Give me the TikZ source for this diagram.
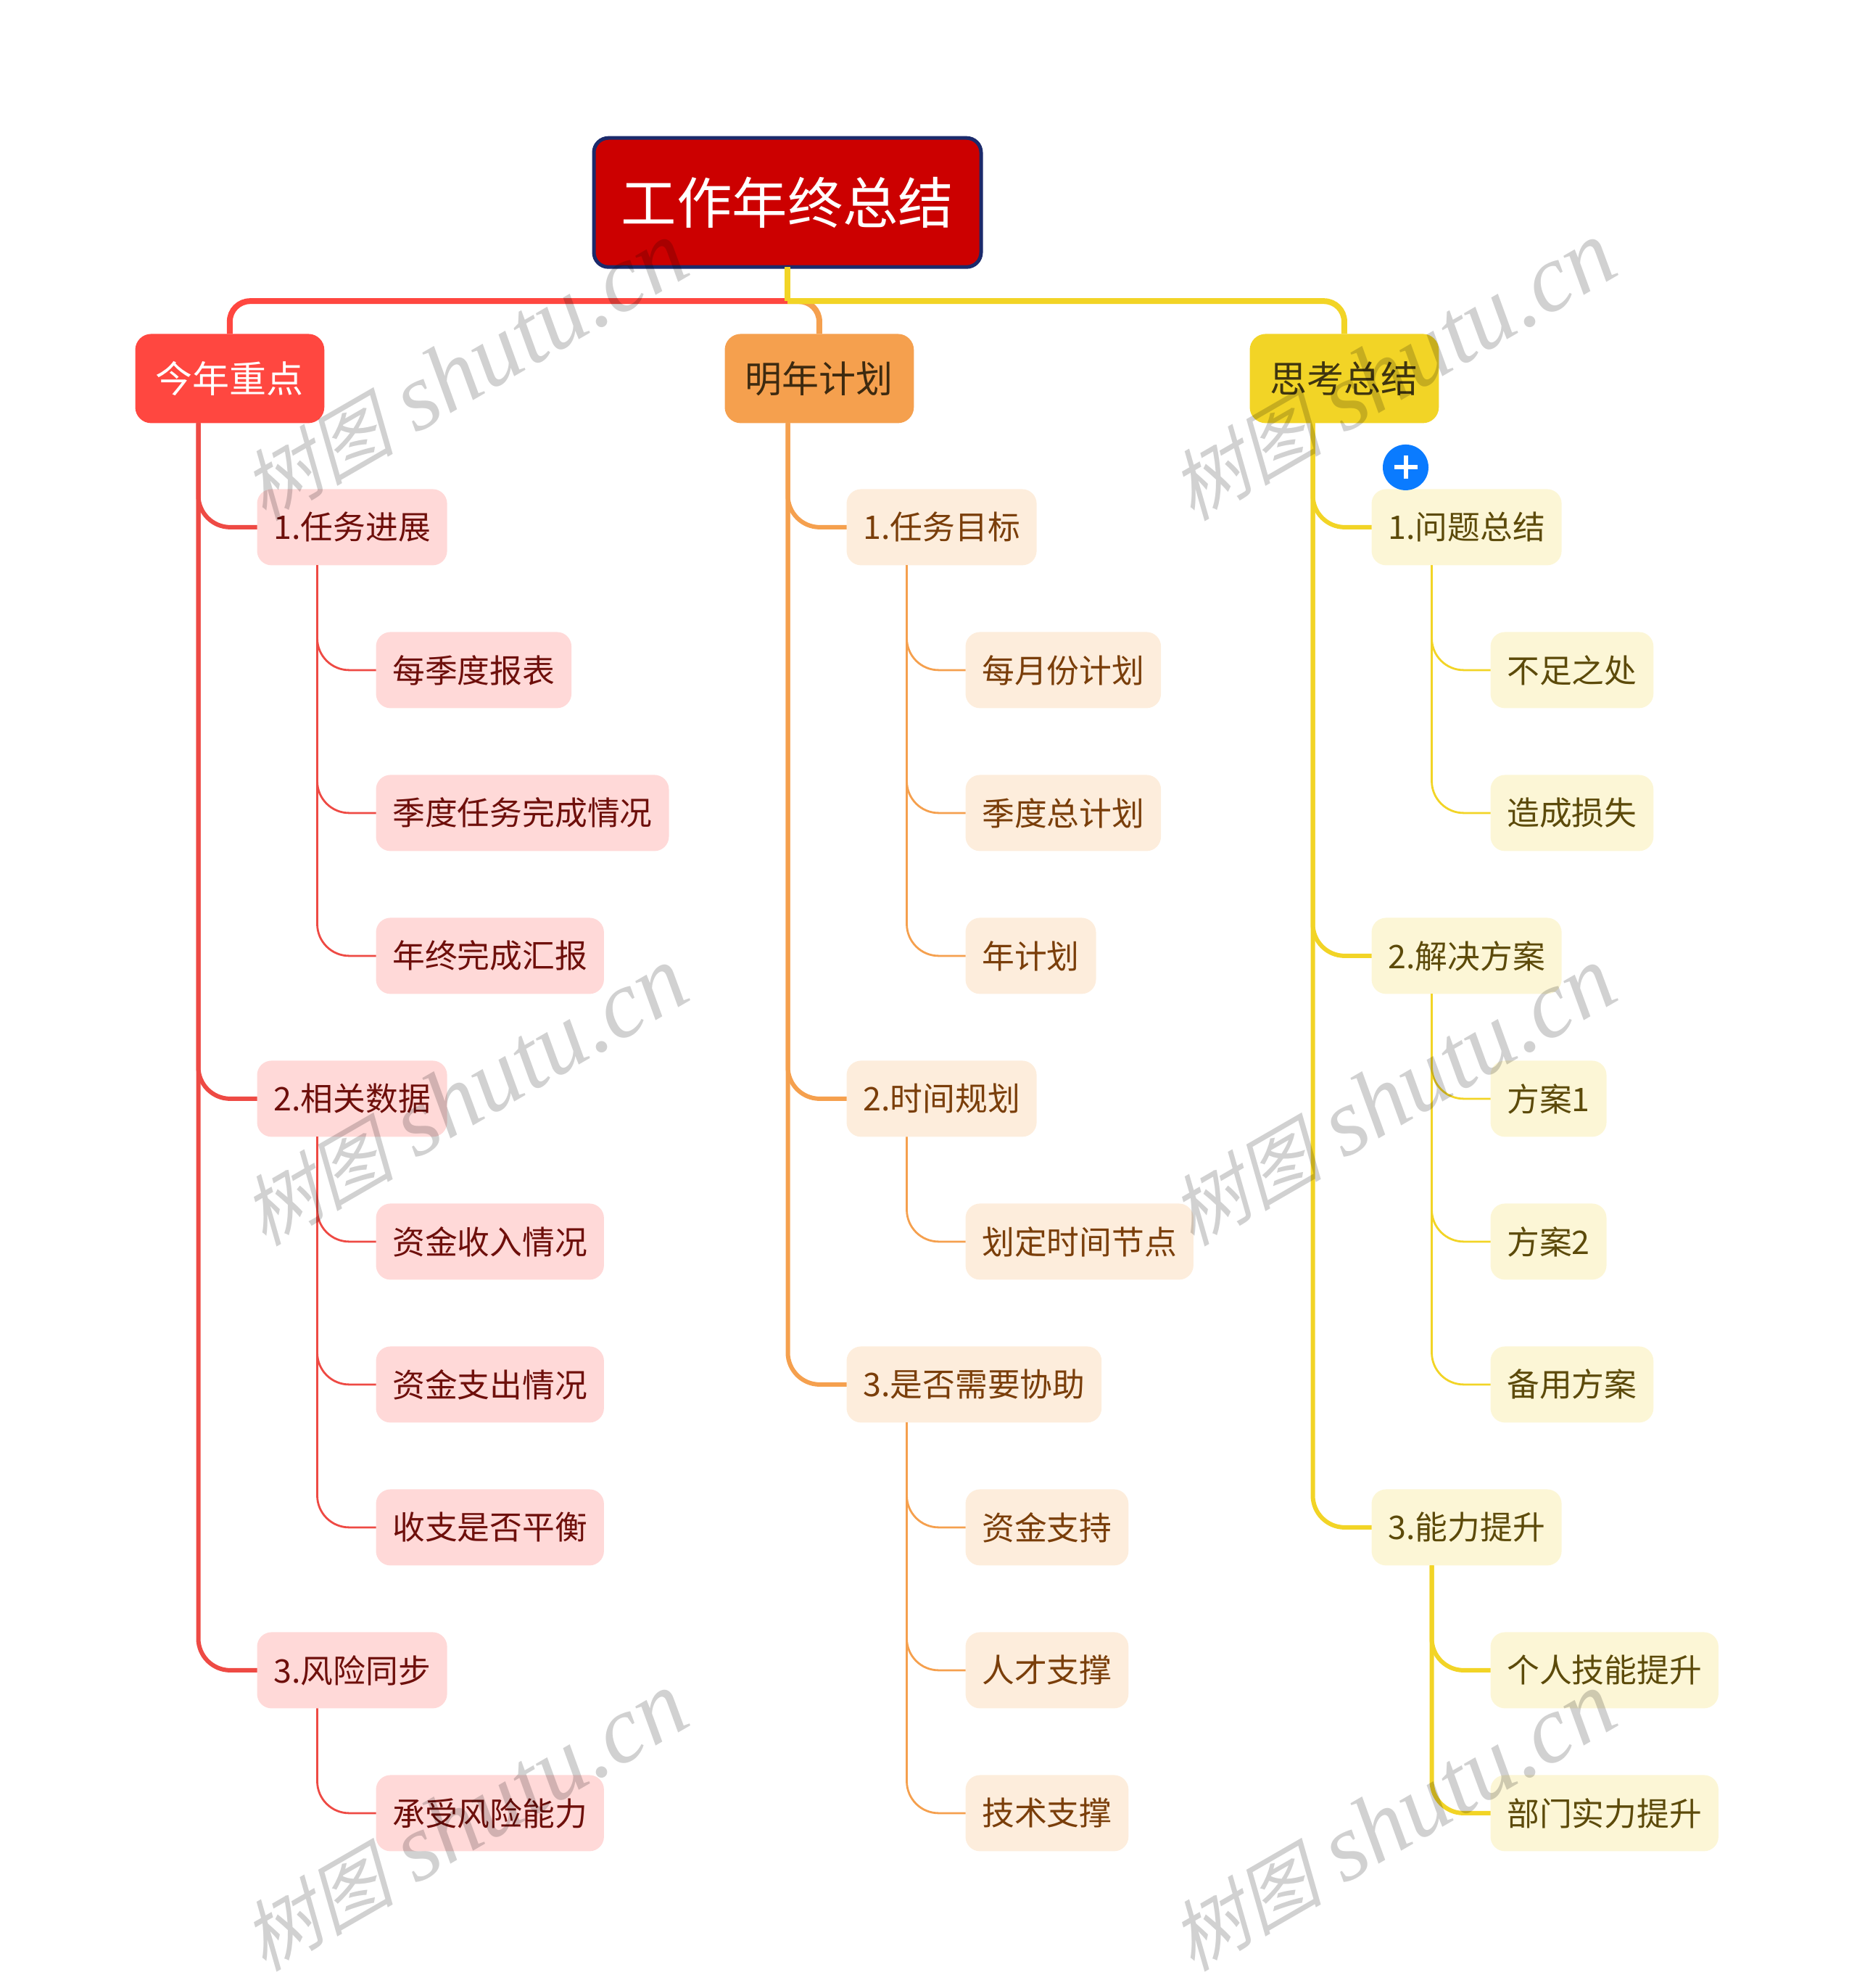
\documentclass[tikz,border=0pt]{standalone}
\usepackage{fontspec}
\setmainfont{Noto Sans CJK SC}
\newfontfamily\wmcjk{Noto Sans CJK SC}[FakeSlant=0.25]
\newfontfamily\wmlatin{Liberation Serif}
\usetikzlibrary{positioning,calc}
\definecolor{rootfill}{HTML}{CC0000}
\definecolor{rootline}{HTML}{1B2A6B}
\definecolor{redmain}{HTML}{FF4740}
\definecolor{redline}{HTML}{EE4A44}
\definecolor{redsoft}{HTML}{FFD9D8}
\definecolor{redtext}{HTML}{6E0F0B}
\definecolor{orgmain}{HTML}{F5A04E}
\definecolor{orgsoft}{HTML}{FDEDDC}
\definecolor{orgtext}{HTML}{7A3E0A}
\definecolor{orgdark}{HTML}{3D2A10}
\definecolor{yelmain}{HTML}{F2D426}
\definecolor{yelsoft}{HTML}{FCF6D6}
\definecolor{yeltext}{HTML}{5C4A0A}
\definecolor{yeldark}{HTML}{3F3510}
\definecolor{plusblue}{HTML}{0A7BFF}
\newcommand{\wmlabel}{{\wmcjk\fontsize{53}{70}\selectfont 树图} {\wmlatin\itshape shutu.cn}}

\begin{document}
\begin{tikzpicture}[
      node distance=46pt and 82pt,
      box/.style={rectangle, outer sep=0pt, align=center},
      rootbox/.style={box, draw=rootline, line width=2.5pt, fill=rootfill, text=white,
        rounded corners=10pt, minimum width=267pt, minimum height=89pt,
        font=\fontsize{38.2}{46}\selectfont},
      mainbox/.style={box, rounded corners=11pt, minimum height=61.5pt, inner xsep=14.2pt,
        font=\fontsize{25.5}{31}\selectfont},
      subbox/.style={box, rounded corners=10pt, minimum height=52.5pt, inner xsep=11.4pt,
        font=\fontsize{22.4}{27}\selectfont},
      redmainbox/.style={mainbox, fill=redmain, text=white},
      orgmainbox/.style={mainbox, fill=orgmain, text=orgdark},
      yelmainbox/.style={mainbox, fill=yelmain, text=yeldark},
      redbox/.style={subbox, fill=redsoft, text=redtext},
      orgbox/.style={subbox, fill=orgsoft, text=orgtext},
      yelbox/.style={subbox, fill=yelsoft, text=yeltext},
      under/.style={below right=46pt and 0pt of #1.south west},
      back/.style={below right=46pt and -82pt of #1.south west},
      first/.style={below right=45.5pt and 84pt of #1.south west},
      toproot/.style={line width=4pt, rounded corners=14pt},
      tomain/.style={line width=3pt, rounded corners=22pt},
      toleaf/.style={line width=1.4pt, rounded corners=22pt},
      addbtn/.style={circle, fill=plusblue, minimum size=31.5pt, inner sep=0pt, outer sep=0pt,
        path picture={\draw[white, line width=3pt]
          ([xshift=-8pt]path picture bounding box.center) -- ([xshift=8pt]path picture bounding box.center)
          ([yshift=-8pt]path picture bounding box.center) -- ([yshift=8pt]path picture bounding box.center);}},
      wmtext/.style={rotate=30, text=black, text opacity=0.18, inner sep=0pt,
        font=\fontsize{66}{70}\selectfont}]
    \useasboundingbox (0pt,0pt) rectangle (1280pt,-1370.5pt);
    % top of the tree
    \node[rootbox] (root) at (543pt,-139.6pt) {工作年终总结};
    \node[redmainbox, below right=46.1pt and -316.25pt of root.south west] (thisyr) {今年重点};
    \node[orgmainbox, below right=46.1pt and 90.25pt of root.south west] (nextyr) {明年计划};
    \node[yelmainbox, below right=46.1pt and 452.25pt of root.south west] (review) {思考总结};
    \coordinate[below=23.5pt of root.south] (rootjoin);
    % first column
    \node[redbox, first=thisyr] (thisA) {1.任务进展};
    \node[redbox, below right=of thisA.south west] (thisAa) {每季度报表};
    \node[redbox, under=thisAa] (thisAb) {季度任务完成情况};
    \node[redbox, under=thisAb] (thisAc) {年终完成汇报};
    \node[redbox, back=thisAc] (thisB) {2.相关数据};
    \node[redbox, below right=of thisB.south west] (thisBa) {资金收入情况};
    \node[redbox, under=thisBa] (thisBb) {资金支出情况};
    \node[redbox, under=thisBb] (thisBc) {收支是否平衡};
    \node[redbox, back=thisBc] (thisC) {3.风险同步};
    \node[redbox, below right=of thisC.south west] (thisCa) {承受风险能力};
    % second column
    \node[orgbox, first=nextyr] (nextA) {1.任务目标};
    \node[orgbox, below right=of nextA.south west] (nextAa) {每月份计划};
    \node[orgbox, under=nextAa] (nextAb) {季度总计划};
    \node[orgbox, under=nextAb] (nextAc) {年计划};
    \node[orgbox, back=nextAc] (nextB) {2.时间规划};
    \node[orgbox, below right=of nextB.south west] (nextBa) {划定时间节点};
    \node[orgbox, back=nextBa] (nextC) {3.是否需要协助};
    \node[orgbox, below right=of nextC.south west] (nextCa) {资金支持};
    \node[orgbox, under=nextCa] (nextCb) {人才支撑};
    \node[orgbox, under=nextCb] (nextCc) {技术支撑};
    % third column
    \node[yelbox, first=review] (revA) {1.问题总结};
    \node[yelbox, below right=of revA.south west] (revAa) {不足之处};
    \node[yelbox, under=revAa] (revAb) {造成损失};
    \node[yelbox, back=revAb] (revB) {2.解决方案};
    \node[yelbox, below right=of revB.south west] (revBa) {方案1};
    \node[yelbox, under=revBa] (revBb) {方案2};
    \node[yelbox, under=revBb] (revBc) {备用方案};
    \node[yelbox, back=revBc] (revC) {3.能力提升};
    \node[yelbox, below right=of revC.south west] (revCa) {个人技能提升};
    \node[yelbox, under=revCa] (revCb) {部门实力提升};
    \node[addbtn] (addA) at ([xshift=23.5pt,yshift=15pt]revA.north west) {};
    % connectors
    \draw[toproot, orgmain] (rootjoin) -| (nextyr.north);
    \draw[toproot, redmain] (rootjoin) -| (thisyr.north);
    \draw[toproot, yelmain] (rootjoin) -| (review.north);
    \draw[toproot, yelmain] (root.south) -- (rootjoin);
    \draw[tomain, redline] ([xshift=43.5pt]thisyr.south west) |- (thisA.west);
    \draw[tomain, redline] ([xshift=43.5pt]thisyr.south west) |- (thisB.west);
    \draw[tomain, redline] ([xshift=43.5pt]thisyr.south west) |- (thisC.west);
    \draw[toleaf, redline] ([xshift=41.5pt]thisA.south west) |- (thisAa.west);
    \draw[toleaf, redline] ([xshift=41.5pt]thisA.south west) |- (thisAb.west);
    \draw[toleaf, redline] ([xshift=41.5pt]thisA.south west) |- (thisAc.west);
    \draw[toleaf, redline] ([xshift=41.5pt]thisB.south west) |- (thisBa.west);
    \draw[toleaf, redline] ([xshift=41.5pt]thisB.south west) |- (thisBb.west);
    \draw[toleaf, redline] ([xshift=41.5pt]thisB.south west) |- (thisBc.west);
    \draw[toleaf, redline] ([xshift=41.5pt]thisC.south west) |- (thisCa.west);
    \draw[tomain, orgmain] ([xshift=43.5pt]nextyr.south west) |- (nextA.west);
    \draw[tomain, orgmain] ([xshift=43.5pt]nextyr.south west) |- (nextB.west);
    \draw[tomain, orgmain] ([xshift=43.5pt]nextyr.south west) |- (nextC.west);
    \draw[toleaf, orgmain] ([xshift=41.5pt]nextA.south west) |- (nextAa.west);
    \draw[toleaf, orgmain] ([xshift=41.5pt]nextA.south west) |- (nextAb.west);
    \draw[toleaf, orgmain] ([xshift=41.5pt]nextA.south west) |- (nextAc.west);
    \draw[toleaf, orgmain] ([xshift=41.5pt]nextB.south west) |- (nextBa.west);
    \draw[toleaf, orgmain] ([xshift=41.5pt]nextC.south west) |- (nextCa.west);
    \draw[toleaf, orgmain] ([xshift=41.5pt]nextC.south west) |- (nextCb.west);
    \draw[toleaf, orgmain] ([xshift=41.5pt]nextC.south west) |- (nextCc.west);
    \draw[tomain, yelmain] ([xshift=43.5pt]review.south west) |- (revA.west);
    \draw[tomain, yelmain] ([xshift=43.5pt]review.south west) |- (revB.west);
    \draw[tomain, yelmain] ([xshift=43.5pt]review.south west) |- (revC.west);
    \draw[toleaf, yelmain] ([xshift=41.5pt]revA.south west) |- (revAa.west);
    \draw[toleaf, yelmain] ([xshift=41.5pt]revA.south west) |- (revAb.west);
    \draw[toleaf, yelmain] ([xshift=41.5pt]revB.south west) |- (revBa.west);
    \draw[toleaf, yelmain] ([xshift=41.5pt]revB.south west) |- (revBb.west);
    \draw[toleaf, yelmain] ([xshift=41.5pt]revB.south west) |- (revBc.west);
    \draw[tomain, yelmain] ([xshift=41.5pt]revC.south west) |- (revCa.west);
    \draw[tomain, yelmain] ([xshift=41.5pt]revC.south west) |- (revCb.west);
    % watermarks
    \node[wmtext] (wmA) at (320pt,-256pt) {\wmlabel};
    \node[wmtext] (wmB) at (960pt,-256pt) {\wmlabel};
    \node[wmtext] (wmC) at (320pt,-756pt) {\wmlabel};
    \node[wmtext] (wmD) at (960pt,-756pt) {\wmlabel};
    \node[wmtext] (wmE) at (320pt,-1256pt) {\wmlabel};
    \node[wmtext] (wmF) at (960pt,-1256pt) {\wmlabel};
  \end{tikzpicture}
\end{document}
